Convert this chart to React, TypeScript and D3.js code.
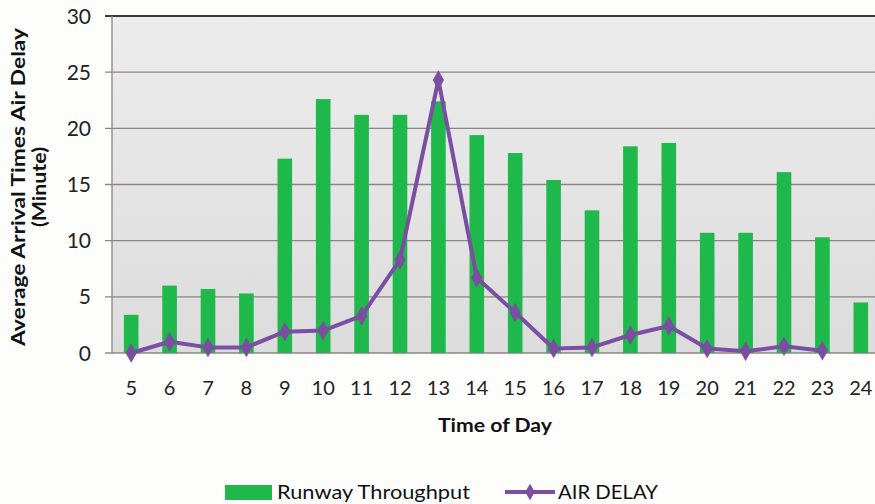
import React from "react";
import * as d3 from "d3";

const hours = ["5","6","7","8","9","10","11","12","13","14","15","16","17","18","19","20","21","22","23","24"];
const runwayThroughput = [3.4, 6.0, 5.7, 5.3, 17.3, 22.6, 21.2, 21.2, 22.4, 19.4, 17.8, 15.4, 12.7, 18.4, 18.7, 10.7, 10.7, 16.1, 10.3, 4.5];
const airDelay = [0.0, 1.0, 0.5, 0.5, 1.9, 2.0, 3.3, 8.3, 24.3, 6.7, 3.6, 0.4, 0.5, 1.6, 2.4, 0.4, 0.15, 0.6, 0.2, null];
const yTicks = [0, 5, 10, 15, 20, 25, 30];

const W = 875;
const H = 504;
const plot = { left: 112, right: 880, top: 16, bottom: 353 };
const font = "Lato, 'Open Sans', sans-serif";
const green = "#1fb84a";
const purple = "#7a4ea0";

export default function App() {
  const x = d3.scaleBand<string>().domain(hours).range([plot.left, plot.right]).paddingInner(0.62).paddingOuter(0.31);
  const y = d3.scaleLinear().domain([0, 30]).range([plot.bottom, plot.top]);
  const cx = (h: string) => (x(h) as number) + x.bandwidth() / 2;

  const pts = hours
    .map((h, i) => ({ h, v: airDelay[i] }))
    .filter((p) => p.v !== null) as { h: string; v: number }[];
  const line = d3.line<{ h: string; v: number }>().x((p) => cx(p.h)).y((p) => y(p.v));
  const diamond = d3.symbol().type(d3.symbolDiamond).size(110)() as string;
  const legendDiamond = d3.symbol().type(d3.symbolDiamond).size(80)() as string;

  return (
    <svg width={W} height={H} style={{ position: "absolute", left: 0, top: 0, background: "#fdfdfc" }}>
      <defs>
        <linearGradient id="bg" x1="0" y1="0" x2="0" y2="1">
          <stop offset="0" stopColor="#ececec" />
          <stop offset="1" stopColor="#dcdcdc" />
        </linearGradient>
        <clipPath id="clip">
          <rect x={0} y={0} width={W} height={H} />
        </clipPath>
      </defs>
      <g clipPath="url(#clip)">
        <rect x={plot.left} y={plot.top} width={plot.right - plot.left} height={plot.bottom - plot.top} fill="url(#bg)" />
        {yTicks.map((t) => (
          <line key={t} x1={plot.left - 7} x2={plot.right} y1={y(t)} y2={y(t)} stroke={t === 30 ? "#3a3a3a" : "#8c8585"} strokeWidth={t === 30 ? 2 : 1.3} />
        ))}
        <line x1={plot.left} x2={plot.left} y1={plot.top} y2={plot.bottom} stroke="#8c8585" strokeWidth={1.3} />
        {hours.map((h, i) => (
          <rect key={h} x={x(h)} y={y(runwayThroughput[i])} width={x.bandwidth()} height={plot.bottom - y(runwayThroughput[i])} fill={green} />
        ))}
        <path d={line(pts) as string} fill="none" stroke={purple} strokeWidth={4} strokeLinejoin="round" />
        {pts.map((p) => (
          <path key={p.h} d={diamond} transform={`translate(${cx(p.h)},${y(p.v)})`} fill={purple} />
        ))}
      </g>
      {yTicks.map((t) => (
        <text key={t} x={91} y={y(t)} dy="0.36em" textAnchor="end" fontFamily={font} fontSize={21} fill="#222">{t}</text>
      ))}
      {hours.map((h) => (
        <text key={h} x={cx(h)} y={395} textAnchor="middle" fontFamily={font} fontSize={20} fill="#222">{h}</text>
      ))}
      <text x={495} y={432} textAnchor="middle" fontFamily={font} fontSize={19} fontWeight="bold" fill="#111" textLength={114} lengthAdjust="spacingAndGlyphs">Time of Day</text>
      <g transform="translate(25,187) rotate(-90)">
        <text x={0} y={0} textAnchor="middle" fontFamily={font} fontSize={18} fontWeight="bold" fill="#111" textLength={318} lengthAdjust="spacingAndGlyphs">Average Arrival Times Air Delay</text>
        <text x={0} y={21} textAnchor="middle" fontFamily={font} fontSize={18} fontWeight="bold" fill="#111" textLength={80} lengthAdjust="spacingAndGlyphs">(Minute)</text>
      </g>
      <rect x={225} y={485} width={47} height={15} fill={green} />
      <text x={277} y={499} fontFamily={font} fontSize={20} fill="#111" textLength={193} lengthAdjust="spacingAndGlyphs">Runway Throughput</text>
      <line x1={505} x2={555} y1={492} y2={492} stroke={purple} strokeWidth={4} />
      <path d={legendDiamond} transform="translate(530,492)" fill={purple} />
      <text x={558} y={499} fontFamily={font} fontSize={20} fill="#111" textLength={100} lengthAdjust="spacingAndGlyphs">AIR DELAY</text>
    </svg>
  );
}
